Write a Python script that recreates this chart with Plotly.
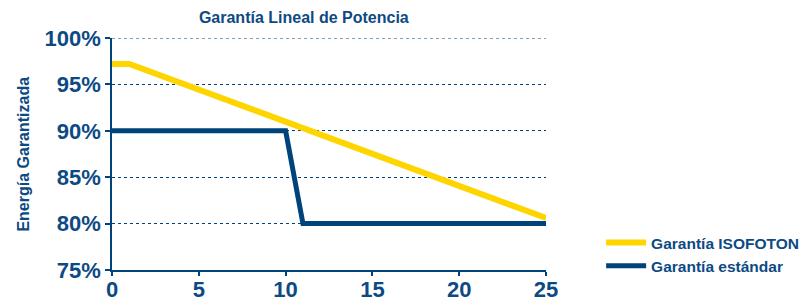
import plotly.graph_objects as go

years_iso = [0, 1, 25]
vals_iso = [97.2, 97.2, 80.6]
years_std = [0, 10, 11, 25]
vals_std = [90, 90, 80, 80]
x_ticks = [0, 5, 10, 15, 20, 25]
y_ticks = [75, 80, 85, 90, 95, 100]
y_labels = ["75%", "80%", "85%", "90%", "95%", "100%"]

BLUE = "#00427A"
YEL = "#FFD500"
TXT = "#0D4A83"
FONT = "Liberation Sans, Arial, sans-serif"

fig = go.Figure()
fig.add_trace(go.Scatter(x=years_iso, y=vals_iso, mode="lines", name="Garantía ISOFOTON",
                         line=dict(color=YEL, width=6)))
fig.add_trace(go.Scatter(x=years_std, y=vals_std, mode="lines", name="Garantía estándar",
                         line=dict(color=BLUE, width=5)))

# dotted gridline at the top tick (Plotly hides grid at the range edge)
fig.add_shape(type="line", xref="paper", x0=0, x1=1, yref="y", y0=y_ticks[-1], y1=y_ticks[-1],
              line=dict(color=BLUE, width=1, dash="dot"), layer="below")

fig.add_annotation(text="Energía Garantizada", xref="paper", yref="paper", x=-0.206, y=0.5,
                   xanchor="center", yanchor="middle", textangle=-90, showarrow=False,
                   font=dict(size=16, color=TXT, weight="bold", family=FONT))

fig.update_layout(
    width=799, height=293,
    margin=dict(l=104, r=261, t=30, b=31, autoexpand=False),
    paper_bgcolor="white", plot_bgcolor="white",
    font=dict(family=FONT, color=TXT, weight="bold"),
    title=dict(text="Garantía Lineal de Potencia", font=dict(size=16, color=TXT, weight="bold"),
               x=0.442, xref="paper", xanchor="center", y=1 - 9.5/293, yref="container", yanchor="middle"),
    showlegend=True,
    legend=dict(x=1.127, xanchor="left", y=0.19, yanchor="top", itemwidth=40,
                font=dict(size=15.5, color=TXT, weight="bold"),
                bgcolor="rgba(0,0,0,0)", tracegroupgap=0),
    xaxis=dict(range=[0, 25], tickvals=x_ticks, showgrid=False, zeroline=False, automargin=False,
               showline=True, linecolor=BLUE, linewidth=1.5, ticks="outside", ticklen=4,
               tickcolor=BLUE, tickwidth=1.5, ticklabelstandoff=-5,
               tickfont=dict(size=22, family=FONT, color=TXT, weight="bold")),
    yaxis=dict(range=[75, 100], tickvals=y_ticks, ticktext=y_labels, automargin=False,
               showgrid=True, gridcolor=BLUE, griddash="dot", gridwidth=1, zeroline=False,
               showline=True, linecolor=BLUE, linewidth=1.5, ticks="outside", ticklen=5,
               tickcolor=BLUE, tickwidth=1.5,
               tickfont=dict(size=22, family=FONT, color=TXT, weight="bold")),
)
fig.write_html("out.html")
